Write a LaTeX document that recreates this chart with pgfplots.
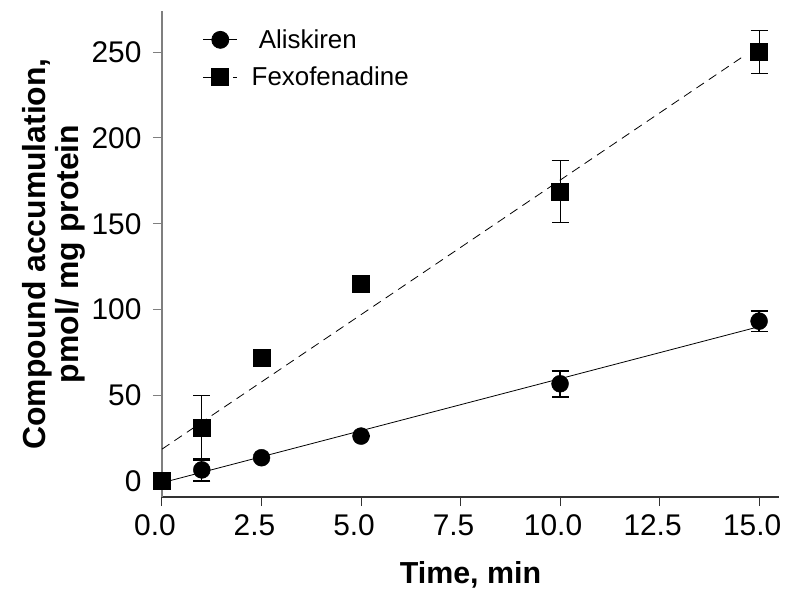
\documentclass[border=0pt]{standalone}
\usepackage{pgfplots}
\pgfplotsset{compat=1.18}
\usepackage{fontspec}
\setmainfont{Liberation Sans}
\definecolor{axgray}{HTML}{7F7F7F}
\definecolor{xgray}{HTML}{333333}
\begin{document}
\begin{tikzpicture}[x=1bp,y=1bp]
\begin{axis}[
  at={(0,0)}, anchor=south west,
  scale only axis, width=617bp, height=486bp,
  xmin=0, xmax=15.5, ymin=-9.3, ymax=274,
  axis x line*=bottom, axis y line*=left,
  axis line style={line width=1.1bp},
  x axis line style={xgray},
  y axis line style={axgray},
  tick align=outside,
  major tick length=9bp,
  xtick={0,2.5,5,7.5,10,12.5,15},
  xticklabels={0.0,2.5,5.0,7.5,10.0,12.5,15.0},
  ytick={0,50,100,150,200,250},
  xtick style={xgray, line width=1bp},
  ytick style={axgray, line width=1bp},
  /pgf/number format/assume math mode=true,
  tick label style={font=\fontsize{30}{34}\selectfont},
  xticklabel style={yshift=-5bp, xshift=-7bp},
  yticklabel style={xshift=-8bp},
  xlabel={\bfseries Time, min},
  xlabel style={font=\fontsize{30.5}{34}\selectfont, at={(axis description cs:0.5,0)}, anchor=base, yshift=-86bp},
  ylabel={\bfseries Compound accumulation,\\ \bfseries pmol/ mg protein},
  ylabel style={font=\fontsize{32}{33}\selectfont, align=center, at={(axis description cs:-0.176,0.5)}, anchor=center, rotate=0},
  clip=false,
  legend style={draw=none, fill=none, at={(axis description cs:0.066,0.966)}, anchor=north west,
    font=\fontsize{26}{30}\selectfont, row sep=13bp, inner sep=0pt},
  legend cell align=left,
  legend image code/.code={
    \draw[#1] (0bp,0bp) -- (34bp,0bp);
    \draw[#1, solid, mark repeat=1] plot coordinates {(17bp,0bp)};
    \path (46bp,0bp);
  },
]
% legend entries
\addlegendimage{black, line width=0.8bp, mark=*, mark size=8.5bp, mark options={solid, fill=black}}
\addlegendentry{\ Aliskiren}
\addlegendimage{black, line width=0.8bp, dash pattern=on 9bp off 6bp, mark=square*, mark size=8.5bp, mark options={solid, fill=black}}
\addlegendentry{Fexofenadine}

% regression lines
\addplot[forget plot, black, line width=0.8bp] coordinates {(0,-1) (15,90)};
\addplot[forget plot, black, line width=0.8bp, dash pattern=on 9bp off 6bp] coordinates {(0,18.6) (14.6,247.5)};

% Aliskiren data
\addplot[forget plot, only marks, mark=*, mark size=8.5bp, black, fill=black,
  error bars/.cd, y dir=both, y explicit,
  error bar style={line width=1.3bp, black},
  error mark options={line width=1.6bp, mark size=8.5bp, rotate=90, black}]
  table[x=x, y=y, y error=e] {
x y e
0 0 0
1 6.5 6.4
2.5 13.6 0
5 26.2 0
10 56.7 7.6
15 93.2 6.0
};

% Fexofenadine data
\addplot[forget plot, only marks, mark=square*, mark size=8.5bp, black, fill=black,
  error bars/.cd, y dir=both, y explicit,
  error bar style={line width=1bp, black},
  error mark options={line width=1.1bp, mark size=8.5bp, rotate=90, black}]
  table[x=x, y=y, y error=e] {
x y e
0 0 0
1 31 18.8
2.5 72 0
5 115.2 0
10 168.6 18
15 250 12.5
};
\end{axis}
\pgfresetboundingbox
\useasboundingbox (-162bp,-92bp) rectangle (623bp,497bp);
\end{tikzpicture}
\end{document}
